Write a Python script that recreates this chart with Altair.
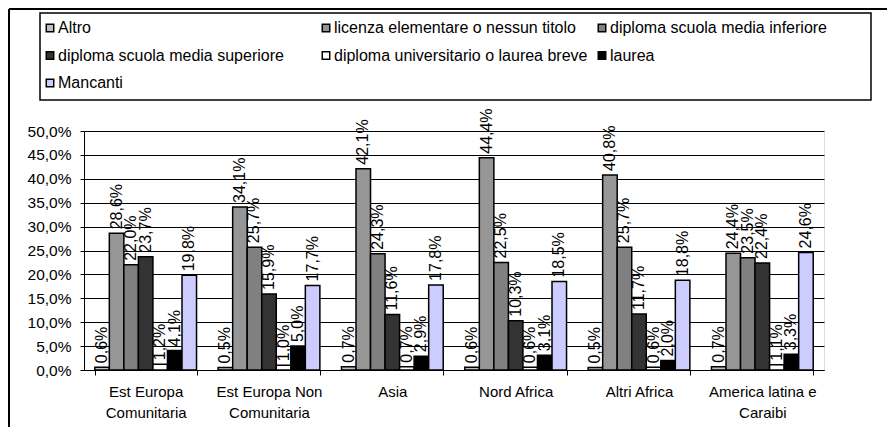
import altair as alt
import pandas as pd

categories = [
    "Est Europa\nComunitaria",
    "Est Europa Non\nComunitaria",
    "Asia",
    "Nord Africa",
    "Altri Africa",
    "America latina e\nCaraibi",
]
series = [
    "Altro",
    "licenza elementare o nessun titolo",
    "diploma scuola media inferiore",
    "diploma scuola media superiore",
    "diploma universitario o laurea breve",
    "laurea",
    "Mancanti",
]
altro = [0.6, 0.5, 0.7, 0.6, 0.5, 0.7]
licenza = [28.6, 34.1, 42.1, 44.4, 40.8, 24.4]
media_inf = [22.0, 25.7, 24.3, 22.5, 25.7, 23.5]
media_sup = [23.7, 15.9, 11.6, 10.3, 11.7, 22.4]
diploma_univ = [1.2, 1.0, 0.7, 0.6, 0.6, 1.1]
laurea = [4.1, 5.0, 2.9, 3.1, 2.0, 3.3]
mancanti = [19.8, 17.7, 17.8, 18.5, 18.8, 24.6]
colors = ["#C0C0C0", "#969696", "#808080", "#333333", "#FFFFFF", "#000000", "#CCCCFF"]
y_ticks = [0, 5, 10, 15, 20, 25, 30, 35, 40, 45, 50]

all_values = [altro, licenza, media_inf, media_sup, diploma_univ, laurea, mancanti]
rows = []
for s, vals in zip(series, all_values):
    for c, v in zip(categories, vals):
        rows.append({"cat": c, "ser": s, "val": v,
                     "lab": f"{v:.1f}".replace(".", ",") + "%"})
df = pd.DataFrame(rows)

FONT = "Liberation Sans"

base = alt.Chart(df).encode(
    x=alt.X("cat:N", sort=categories,
            scale=alt.Scale(paddingInner=0.175, paddingOuter=0.0875),
            axis=alt.Axis(title=None, labelExpr="split(datum.label, '\\n')",
                          tickBand="extent", labelAngle=0, domainColor="black",
                          tickColor="black", tickSize=5, labelPadding=9,
                          labelFontSize=15, labelLineHeight=21, grid=False,
                          labelColor="black", labelFont=FONT, labelBaseline="top")),
    xOffset=alt.XOffset("ser:N", sort=series,
                        scale=alt.Scale(paddingInner=0, paddingOuter=0)),
    y=alt.Y("val:Q", scale=alt.Scale(domain=[0, 50], nice=False),
            axis=alt.Axis(title=None, values=y_ticks,
                          labelExpr="replace(format(datum.value, '.1f'), '.', ',') + '%'",
                          tickSize=4, labelPadding=9, labelFontSize=15.5,
                          domainColor="black", tickColor="black",
                          gridColor="black", gridWidth=1, labelColor="black",
                          labelFont=FONT)),
)

bars = base.mark_bar(stroke="black", strokeWidth=1.5).encode(
    fill=alt.Fill("ser:N", scale=alt.Scale(domain=series, range=colors),
                  legend=alt.Legend(title=None, orient="none", legendX=-42, legendY=-111,
                                    columns=3, direction="horizontal", gridAlign="all",
                                    symbolType="square", symbolSize=56,
                                    symbolStrokeColor="black", symbolStrokeWidth=1.5,
                                    labelFontSize=16, labelFont=FONT, labelColor="black",
                                    labelLimit=400, labelOffset=0,
                                    columnPadding=6, rowPadding=11.5, padding=0))
)

text = base.mark_text(angle=270, align="left", baseline="middle", dx=4,
                      fontSize=16, font=FONT, color="black").encode(text="lab:N")

frame_data = pd.DataFrame({"k": [0]})
left_rule = alt.Chart(frame_data).mark_rule(color="black", strokeWidth=2).encode(
    x=alt.value(-75), y=alt.value(-122), y2=alt.value(296))
top_rule = alt.Chart(frame_data).mark_rule(color="black", strokeWidth=2).encode(
    x=alt.value(-75), x2=alt.value(803), y=alt.value(-122))
legend_box = alt.Chart(frame_data).mark_rect(fill=None, stroke="black", strokeWidth=1.5).encode(
    x=alt.value(-44), x2=alt.value(787), y=alt.value(-118), y2=alt.value(-31))

chart = alt.layer(bars, text, left_rule, top_rule, legend_box).properties(
    width=740, height=239,
    padding={"left": 0, "top": 0, "right": 0, "bottom": 0},
).configure_view(stroke="#808080", strokeWidth=2).configure(font=FONT)

chart.save("out.html", embed_options={"renderer": "svg", "actions": False})
